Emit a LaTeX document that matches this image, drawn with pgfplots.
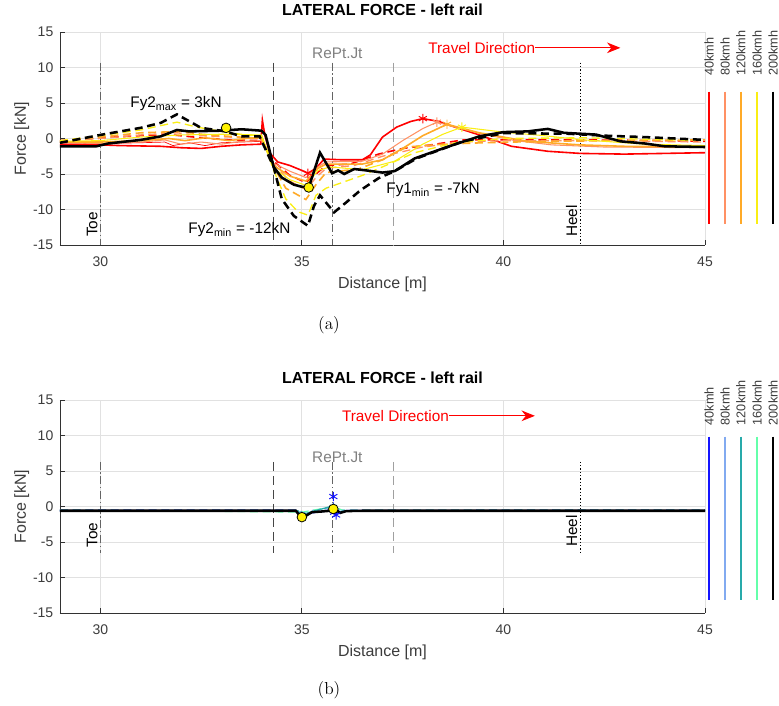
\documentclass[border=0pt]{standalone}
\usepackage{fontspec}
\newfontfamily\arial{Liberation Sans}
\usepackage{pgfplots}
\pgfplotsset{compat=1.18}
\usetikzlibrary{arrows.meta}

\definecolor{cA}{RGB}{255,0,0}
\definecolor{cB}{RGB}{255,145,100}
\definecolor{cC}{RGB}{255,170,40}
\definecolor{cD}{RGB}{250,238,20}
\definecolor{bA}{RGB}{20,20,255}
\definecolor{bB}{RGB}{130,170,240}
\definecolor{bC}{RGB}{40,170,170}
\definecolor{bD}{RGB}{100,255,170}
\definecolor{gridc}{RGB}{225,225,225}
\definecolor{axc}{RGB}{50,50,50}
\definecolor{txtc}{RGB}{60,60,60}
\definecolor{vdark}{RGB}{70,70,70}
\definecolor{vmid}{RGB}{100,100,100}
\definecolor{vlight}{RGB}{160,160,160}

\tikzset{
 lab/.style={font=\arial\fontsize{11.5}{13}\selectfont},
 spd/.style={font=\arial\fontsize{9.5}{11}\selectfont, rotate=90, anchor=west, text=txtc},
}
\pgfplotsset{
 myax/.style={
  width=483.75pt, height=159.75pt, scale only axis, anchor=south west,
  xmin=29, xmax=45, ymin=-15, ymax=15,
  xtick={30,35,40,45}, ytick={-15,-10,-5,0,5,10,15},
  grid=major, grid style={gridc, line width=0.6pt},
  axis x line*=bottom, axis y line*=left,
  axis line style={-, axc, line width=0.6pt},
  tick style={axc, line width=0.6pt}, major tick length=4pt, tick align=inside,
  /pgf/number format/assume math mode=true,
  tick label style={font=\arial\fontsize{10.5}{12}\selectfont, text=txtc},
  xticklabel style={yshift=-5.25pt},
  yticklabel style={xshift=-1.5pt},
  xlabel={Distance [m]}, ylabel={Force [kN]},
  label style={font=\arial\fontsize{12}{14}\selectfont, text=txtc},
  xlabel style={at={([yshift=-33pt]axis description cs:0.5,0)}, anchor=base},
  ylabel style={at={([xshift=-25.5pt]axis description cs:0,0.5)}, anchor=base},
  title={LATERAL FORCE - left rail},
  title style={font=\arial\bfseries\fontsize{12}{14}\selectfont, at={([yshift=6pt]axis description cs:0.5,1)}, anchor=base},
  clip=false,
 },
 vdash/.style={forget plot, vdark, line width=0.8pt, dash pattern=on 7pt off 3.5pt},
 vdashl/.style={forget plot, vlight, line width=0.9pt, dash pattern=on 7pt off 3.5pt},
 vdd/.style={forget plot, vmid, line width=0.8pt, dash pattern=on 6pt off 2pt on 1pt off 2pt},
 vdot/.style={forget plot, black, line width=0.7pt, dash pattern=on 1pt off 1.5pt},
 ldash/.style={dash pattern=on 6pt off 3.5pt},
}

\begin{document}
\begin{tikzpicture}
\useasboundingbox (0,0) rectangle (584.25pt,529.5pt);

%% ================= (a) =================
\begin{axis}[myax, at={(45pt,345.75pt)}]
% marker lines
\addplot[vdd] coordinates {(30,10.7) (30,-15)};
\addplot[vdash] coordinates {(34.29,10.7) (34.29,-15)};
\addplot[vdd] coordinates {(35.77,10.7) (35.77,-15)};
\addplot[vdashl] coordinates {(37.27,10.7) (37.27,-15)};
\addplot[vdot] coordinates {(41.9,10.7) (41.9,-15)};

% 40 kmh
\addplot[cA, line width=1.2pt] coordinates {(29,-0.8)(30,-0.9)(30.5,-1.0)(31.5,-1.1)(32.0,-1.3)(32.5,-1.4)(33.0,-1.1)(33.5,-0.9)(33.98,-0.8)(34.02,2.6)(34.08,0.5)(34.2,-2.0)(34.4,-3.3)(34.7,-3.8)(35.0,-4.5)(35.15,-4.9)(35.35,-4.2)(35.55,-2.9)(36.0,-3.0)(36.5,-3.0)(36.7,-2.3)(37.0,0.2)(37.35,1.6)(37.7,2.4)(38.0,2.8)(38.4,2.4)(38.8,1.6)(39.4,0.5)(40.2,-1.1)(41.1,-1.8)(41.9,-2.1)(43.0,-2.2)(44.0,-2.1)(45,-2.0)};
\addplot[cA, line width=0.5pt] coordinates {(29,-0.6)(30,-0.7)(31,-0.6)(31.6,-0.5)(31.8,-1.0)(32.2,-0.6)(32.6,-1.0)(33,-0.6)(33.5,-0.5)(34,-0.4)};
\addplot[cA, line width=1.2pt, ldash] coordinates {(29,-0.3)(30,0.1)(31,0.4)(31.8,0.5)(32.5,0.1)(33.2,-0.2)(34.0,-0.3)(34.3,-3.2)(34.7,-5.2)(35.1,-6.2)(35.35,-5.0)(35.6,-3.8)(36.2,-3.6)(36.9,-2.2)(37.5,-1.4)(38.2,-0.9)(39.0,-0.2)(40,-0.2)(42,-0.2)(44,-0.3)(45,-0.4)};
% 80 kmh
\addplot[cB, line width=0.8pt] coordinates {(29,-0.6)(30,-0.7)(31,-0.5)(31.6,-0.2)(32,-0.8)(32.5,-0.5)(33,-0.8)(33.5,-0.4)(34,-0.3)(34.3,-3.5)(34.7,-4.6)(35.1,-5.5)(35.4,-4.0)(35.6,-3.3)(36.5,-3.2)(37.0,-2.2)(37.5,-0.3)(38.0,1.4)(38.35,2.3)(38.8,1.6)(39.5,0.6)(40.3,-0.3)(41.2,-0.9)(42.5,-1.2)(45,-1.3)};
\addplot[cB, line width=1.0pt, ldash] coordinates {(29,-0.4)(30,0.0)(31,0.5)(31.9,0.8)(32.5,0.4)(33.2,0.2)(34,0.0)(34.3,-3.6)(34.7,-6.0)(35.1,-7.2)(35.35,-5.5)(35.6,-4.2)(36.3,-3.8)(37,-2.5)(38,-1.2)(39,-0.5)(40,-0.3)(42,-0.3)(45,-0.5)};
% 120 kmh
\addplot[cC, line width=1.2pt] coordinates {(29,-0.5)(30,-0.5)(31,-0.3)(31.7,0.0)(32.1,-0.3)(32.6,0.1)(33.2,-0.3)(33.6,0.0)(34.0,0.1)(34.3,-3.8)(34.7,-5.3)(35.1,-6.0)(35.4,-4.2)(35.6,-3.6)(36.5,-3.6)(37.0,-3.0)(37.5,-1.4)(38.0,0.4)(38.6,2.0)(39.4,0.8)(40.6,-0.4)(41.9,-0.9)(43,-1.1)(45,-1.2)};
\addplot[cC, line width=1.2pt, ldash] coordinates {(29,-0.4)(30,0.2)(31,0.8)(32,1.0)(32.5,0.6)(33.2,0.3)(34.0,0.0)(34.3,-4.0)(34.6,-7.0)(35.1,-8.6)(35.35,-6.5)(35.6,-4.8)(36.4,-4.3)(37.0,-3.0)(37.6,-1.2)(38.5,-0.8)(39.5,-0.6)(41,-0.4)(43,-0.3)(45,-0.2)};
% 160 kmh
\addplot[cD, line width=0.8pt] coordinates {(29,-0.4)(30,-0.3)(31,0.2)(32,0.5)(33,0.6)(34,0.5)(34.3,-4.2)(34.7,-5.8)(35.1,-6.6)(35.4,-4.5)(35.7,-4.0)(36.5,-4.4)(37.3,-3.2)(38.0,-0.8)(38.5,0.6)(38.97,1.6)(40,0.9)(41,0.4)(42,-0.2)(43.5,-0.8)(45,-1.0)};
\addplot[cD, line width=1.0pt, ldash] coordinates {(29,-0.3)(30,0.4)(31,1.2)(31.9,2.3)(32.4,1.6)(33,1.0)(33.6,0.5)(34,0.4)(34.3,-4.5)(34.6,-8.5)(34.9,-10.3)(35.15,-10.8)(35.35,-8.0)(35.6,-7.0)(36.1,-6.0)(36.5,-5.2)(37.0,-4.0)(37.8,-2.0)(38.8,-0.6)(40,0.0)(42,0.1)(45,-0.3)};
% 200 kmh
\addplot[black, line width=1.9pt, ldash] coordinates {(29,-0.6)(30,0.5)(31,1.5)(31.5,2.2)(31.9,3.4)(32.5,1.5)(33.1,1.0)(33.5,0.3)(33.95,0.3)(34.3,-4.0)(34.5,-8.5)(34.8,-10.9)(35.15,-12.3)(35.3,-9.5)(35.45,-8.0)(35.8,-10.4)(36.1,-9.0)(36.45,-7.3)(36.9,-5.6)(37.3,-4.6)(37.85,-2.8)(39.0,-0.4)(40.0,0.75)(41.0,0.7)(41.5,0.7)(42.5,0.4)(43.5,0.2)(45,-0.2)};
\addplot[black, line width=1.9pt] coordinates {(29,-1.1)(29.9,-1.1)(30.2,-0.7)(31.0,-0.2)(31.5,0.3)(31.9,1.2)(32.2,1.0)(33.0,1.1)(33.5,1.3)(34.0,1.1)(34.1,0.5)(34.3,-4.0)(34.5,-5.5)(34.8,-6.5)(35.0,-6.8)(35.17,-6.9)(35.45,-2.0)(35.75,-4.9)(35.9,-4.5)(36.05,-5.0)(36.3,-4.3)(36.6,-4.5)(37.0,-4.8)(37.3,-4.6)(37.8,-2.8)(38.6,-1.2)(39.4,0.3)(40.0,0.9)(40.6,1.0)(41.1,1.35)(41.5,0.8)(42.3,0.55)(42.9,-0.4)(43.5,-0.7)(44.0,-1.1)(45,-1.2)};
% markers
\addplot[only marks, mark=asterisk, mark size=3.5pt, cA, line width=0.7pt] coordinates {(35.15,-4.9)(38.0,2.8)};
\addplot[only marks, mark=asterisk, mark size=3.5pt, cB, line width=0.7pt] coordinates {(38.35,2.3)};
\addplot[only marks, mark=asterisk, mark size=3.5pt, cC, line width=0.7pt] coordinates {(38.6,2.0)};
\addplot[only marks, mark=asterisk, mark size=3.5pt, cD, line width=0.7pt] coordinates {(38.97,1.6)};
\addplot[only marks, mark=*, mark size=3.6pt, mark options={fill=yellow, draw=black, line width=0.6pt}] coordinates {(33.12,1.5)(35.17,-6.9)};

% legend lines
\addplot[forget plot, cA, line width=1.5pt] coordinates {(45.1,6.6)(45.1,-12.0)};
\addplot[forget plot, cB, line width=1.0pt] coordinates {(45.5,6.6)(45.5,-12.0)};
\addplot[forget plot, cC, line width=1.5pt] coordinates {(45.89,6.6)(45.89,-12.0)};
\addplot[forget plot, cD, line width=0.8pt] coordinates {(46.29,6.6)(46.29,-12.0)};
\addplot[forget plot, black, line width=1.9pt] coordinates {(46.69,6.6)(46.69,-12.0)};
\node[spd] at (axis cs:45.1,8.2) {40kmh};
\node[spd] at (axis cs:45.5,8.2) {80kmh};
\node[spd] at (axis cs:45.89,8.2) {120kmh};
\node[spd] at (axis cs:46.29,8.2) {160kmh};
\node[spd] at (axis cs:46.69,8.2) {200kmh};

% texts
\node[lab, rotate=90, anchor=base west, inner sep=0pt, text=black] at (axis cs:29.93,-13.9) {Toe};
\node[lab, rotate=90, anchor=base west, inner sep=0pt, text=black] at (axis cs:41.83,-13.9) {Heel};
\node[lab, anchor=base, inner sep=0pt, text=gray] at (axis cs:35.88,11.2) {RePt.Jt};
\node[lab, anchor=base west, inner sep=0pt, text=red] (td) at (axis cs:38.13,12.0) {Travel Direction};
\coordinate (te) at (axis cs:42.9,0);
\draw[red, line width=0.7pt, -{Stealth[length=10pt,width=8pt]}] (td.east) -- (td.east -| te);
\node[lab, anchor=base west, inner sep=0pt] at (axis cs:30.74,4.35) {Fy2\textsubscript{max} = 3kN};
\node[lab, anchor=base west, inner sep=0pt] at (axis cs:32.18,-13.4) {Fy2\textsubscript{min} = -12kN};
\node[lab, anchor=base west, inner sep=0pt] at (axis cs:37.09,-7.8) {Fy1\textsubscript{min} = -7kN};
\end{axis}

%% ================= (b) =================
\begin{axis}[myax, at={(45pt,69.75pt)}]
\addplot[vdd] coordinates {(30,6.3) (30,-6.6)};
\addplot[vdash] coordinates {(34.29,6.3) (34.29,-6.6)};
\addplot[vdd] coordinates {(35.77,6.3) (35.77,-6.6)};
\addplot[vdashl] coordinates {(37.27,6.3) (37.27,-6.6)};
\addplot[vdot] coordinates {(41.9,6.3) (41.9,-6.6)};

\addplot[bB, line width=1.0pt, ldash] coordinates {(29,-0.45)(34.9,-0.45)(35.0,-0.9)(35.2,-0.6)(35.78,-0.2)(36.0,-0.5)(45,-0.45)};
\addplot[bD, line width=0.8pt, ldash] coordinates {(29,-0.5)(35.0,-0.8)(35.78,0.0)(36.0,-0.5)(45,-0.5)};
\addplot[bA, line width=1.2pt] coordinates {(29,-0.6)(34.85,-0.6)(34.95,-1.1)(35.05,-1.4)(35.2,-0.9)(35.5,-0.7)(35.7,-0.5)(35.78,0.3)(35.82,-1.0)(35.95,-0.8)(36.1,-0.6)(45,-0.6)};
\addplot[bC, line width=1.0pt] coordinates {(29,-0.6)(34.9,-0.6)(35.0,-1.2)(35.2,-0.8)(35.78,0.1)(35.9,-0.8)(36.1,-0.6)(45,-0.6)};
\addplot[black, line width=1.9pt] coordinates {(29,-0.6)(34.85,-0.6)(34.95,-1.3)(35.0,-1.5)(35.1,-1.3)(35.25,-0.8)(35.5,-0.7)(35.7,-0.6)(35.78,-0.35)(35.88,-0.6)(35.95,-0.9)(36.1,-0.65)(36.5,-0.6)(45,-0.6)};
\addplot[only marks, mark=asterisk, mark size=3.5pt, bA, line width=0.7pt] coordinates {(35.78,1.4)(35.85,-1.2)(35.8,-0.8)};
\addplot[only marks, mark=asterisk, mark size=2.5pt, bC, line width=0.6pt] coordinates {(35.0,-1.1)(35.78,0.0)};
\addplot[only marks, mark=*, mark size=3.6pt, mark options={fill=yellow, draw=black, line width=0.6pt}] coordinates {(35.0,-1.5)(35.78,-0.35)};

\addplot[forget plot, bA, line width=1.5pt] coordinates {(45.1,9.85)(45.1,-13.15)};
\addplot[forget plot, bB, line width=1.0pt] coordinates {(45.5,9.85)(45.5,-13.15)};
\addplot[forget plot, bC, line width=1.5pt] coordinates {(45.89,9.85)(45.89,-13.15)};
\addplot[forget plot, bD, line width=0.8pt] coordinates {(46.29,9.85)(46.29,-13.15)};
\addplot[forget plot, black, line width=1.9pt] coordinates {(46.69,9.85)(46.69,-13.15)};
\node[spd] at (axis cs:45.1,10.8) {40kmh};
\node[spd] at (axis cs:45.5,10.8) {80kmh};
\node[spd] at (axis cs:45.89,10.8) {120kmh};
\node[spd] at (axis cs:46.29,10.8) {160kmh};
\node[spd] at (axis cs:46.69,10.8) {200kmh};

\node[lab, rotate=90, anchor=base west, inner sep=0pt, text=black] at (axis cs:29.93,-5.8) {Toe};
\node[lab, rotate=90, anchor=base west, inner sep=0pt, text=black] at (axis cs:41.83,-5.7) {Heel};
\node[lab, anchor=base, inner sep=0pt, text=gray] at (axis cs:35.88,6.2) {RePt.Jt};
\node[lab, anchor=base west, inner sep=0pt, text=red] (tdb) at (axis cs:35.99,12.0) {Travel Direction};
\coordinate (teb) at (axis cs:40.78,0);
\draw[red, line width=0.7pt, -{Stealth[length=10pt,width=8pt]}] (tdb.east) -- (tdb.east -| teb);
\end{axis}

\node[font=\fontsize{13}{15}\selectfont] at (246.75pt,285.75pt) {(a)};
\node[font=\fontsize{13}{15}\selectfont] at (246.75pt,12pt) {(b)};
\end{tikzpicture}
\end{document}
